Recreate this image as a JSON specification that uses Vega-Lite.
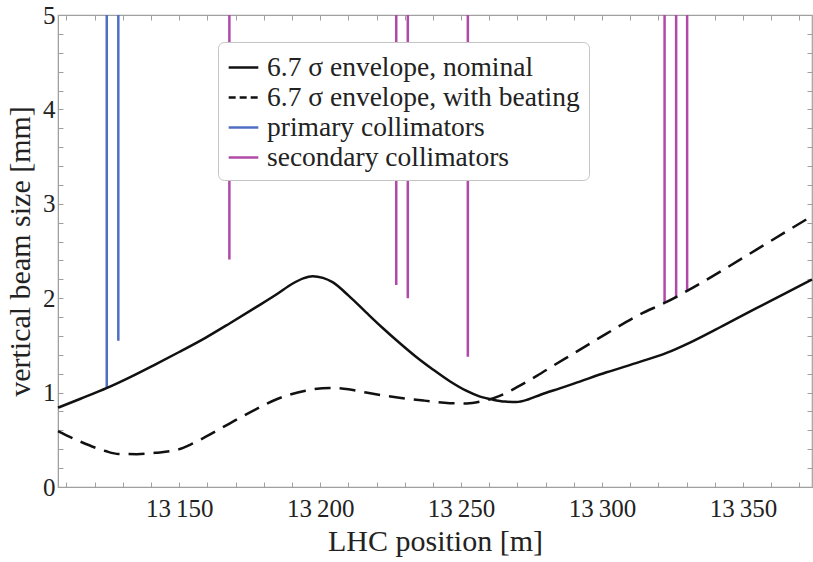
{
  "$schema": "https://vega.github.io/schema/vega-lite/v6.json",
  "width": 754,
  "height": 472,
  "autosize": "none",
  "padding": {"left": 58, "top": 15, "right": 1, "bottom": 75},
  "background": "white",
  "config": {
    "view": {"stroke": "#a0a0a0", "strokeWidth": 1.2},
    "font": "Liberation Serif",
    "axis": {
      "grid": false,
      "domainColor": "#a0a0a0",
      "tickColor": "#a0a0a0",
      "labelFont": "Liberation Serif",
      "titleFont": "Liberation Serif",
      "labelColor": "#222222",
      "titleColor": "#222222",
      "labelFontSize": 25,
      "titleFontSize": 30,
      "titleFontWeight": "normal",
      "tickSize": -5,
      "labelFlush": false,
      "labelOverlap": false
    }
  },
  "resolve": {"axis": {"x": "independent", "y": "independent"}},
  "datasets": {
    "curves": [
      {"s": "nominal", "series": "6.7 σ envelope, nominal", "pos": 13107, "size": 0.84},
      {"s": "nominal", "series": "6.7 σ envelope, nominal", "pos": 13115, "size": 0.935},
      {"s": "nominal", "series": "6.7 σ envelope, nominal", "pos": 13124.4, "size": 1.05},
      {"s": "nominal", "series": "6.7 σ envelope, nominal", "pos": 13133, "size": 1.17},
      {"s": "nominal", "series": "6.7 σ envelope, nominal", "pos": 13141.6, "size": 1.3},
      {"s": "nominal", "series": "6.7 σ envelope, nominal", "pos": 13150, "size": 1.43},
      {"s": "nominal", "series": "6.7 σ envelope, nominal", "pos": 13159.3, "size": 1.58},
      {"s": "nominal", "series": "6.7 σ envelope, nominal", "pos": 13168, "size": 1.735},
      {"s": "nominal", "series": "6.7 σ envelope, nominal", "pos": 13177, "size": 1.9},
      {"s": "nominal", "series": "6.7 σ envelope, nominal", "pos": 13185, "size": 2.05},
      {"s": "nominal", "series": "6.7 σ envelope, nominal", "pos": 13190, "size": 2.15},
      {"s": "nominal", "series": "6.7 σ envelope, nominal", "pos": 13194, "size": 2.21},
      {"s": "nominal", "series": "6.7 σ envelope, nominal", "pos": 13197.3, "size": 2.233},
      {"s": "nominal", "series": "6.7 σ envelope, nominal", "pos": 13201, "size": 2.215},
      {"s": "nominal", "series": "6.7 σ envelope, nominal", "pos": 13204.4, "size": 2.17},
      {"s": "nominal", "series": "6.7 σ envelope, nominal", "pos": 13210, "size": 2.03},
      {"s": "nominal", "series": "6.7 σ envelope, nominal", "pos": 13216.3, "size": 1.85},
      {"s": "nominal", "series": "6.7 σ envelope, nominal", "pos": 13222, "size": 1.69},
      {"s": "nominal", "series": "6.7 σ envelope, nominal", "pos": 13228.1, "size": 1.528},
      {"s": "nominal", "series": "6.7 σ envelope, nominal", "pos": 13234, "size": 1.38},
      {"s": "nominal", "series": "6.7 σ envelope, nominal", "pos": 13240, "size": 1.245},
      {"s": "nominal", "series": "6.7 σ envelope, nominal", "pos": 13246, "size": 1.12},
      {"s": "nominal", "series": "6.7 σ envelope, nominal", "pos": 13251.8, "size": 1.02},
      {"s": "nominal", "series": "6.7 σ envelope, nominal", "pos": 13256.5, "size": 0.96},
      {"s": "nominal", "series": "6.7 σ envelope, nominal", "pos": 13261.3, "size": 0.925},
      {"s": "nominal", "series": "6.7 σ envelope, nominal", "pos": 13265.5, "size": 0.905},
      {"s": "nominal", "series": "6.7 σ envelope, nominal", "pos": 13269.6, "size": 0.9},
      {"s": "nominal", "series": "6.7 σ envelope, nominal", "pos": 13274, "size": 0.93},
      {"s": "nominal", "series": "6.7 σ envelope, nominal", "pos": 13278, "size": 0.975},
      {"s": "nominal", "series": "6.7 σ envelope, nominal", "pos": 13285, "size": 1.045},
      {"s": "nominal", "series": "6.7 σ envelope, nominal", "pos": 13290, "size": 1.095},
      {"s": "nominal", "series": "6.7 σ envelope, nominal", "pos": 13301.6, "size": 1.215},
      {"s": "nominal", "series": "6.7 σ envelope, nominal", "pos": 13313.4, "size": 1.325},
      {"s": "nominal", "series": "6.7 σ envelope, nominal", "pos": 13322.9, "size": 1.42},
      {"s": "nominal", "series": "6.7 σ envelope, nominal", "pos": 13331.2, "size": 1.53},
      {"s": "nominal", "series": "6.7 σ envelope, nominal", "pos": 13343, "size": 1.71},
      {"s": "nominal", "series": "6.7 σ envelope, nominal", "pos": 13354.8, "size": 1.895},
      {"s": "nominal", "series": "6.7 σ envelope, nominal", "pos": 13365, "size": 2.05},
      {"s": "nominal", "series": "6.7 σ envelope, nominal", "pos": 13374.5, "size": 2.198},
      {"s": "beating", "series": "6.7 σ envelope, with beating", "pos": 13107, "size": 0.593},
      {"s": "beating", "series": "6.7 σ envelope, with beating", "pos": 13115, "size": 0.48},
      {"s": "beating", "series": "6.7 σ envelope, with beating", "pos": 13123.8, "size": 0.381},
      {"s": "beating", "series": "6.7 σ envelope, with beating", "pos": 13128.5, "size": 0.35},
      {"s": "beating", "series": "6.7 σ envelope, with beating", "pos": 13135, "size": 0.348},
      {"s": "beating", "series": "6.7 σ envelope, with beating", "pos": 13141.6, "size": 0.362},
      {"s": "beating", "series": "6.7 σ envelope, with beating", "pos": 13149.8, "size": 0.399},
      {"s": "beating", "series": "6.7 σ envelope, with beating", "pos": 13154, "size": 0.45},
      {"s": "beating", "series": "6.7 σ envelope, with beating", "pos": 13159.3, "size": 0.53},
      {"s": "beating", "series": "6.7 σ envelope, with beating", "pos": 13168, "size": 0.675},
      {"s": "beating", "series": "6.7 σ envelope, with beating", "pos": 13177, "size": 0.82},
      {"s": "beating", "series": "6.7 σ envelope, with beating", "pos": 13185, "size": 0.935},
      {"s": "beating", "series": "6.7 σ envelope, with beating", "pos": 13194.8, "size": 1.02},
      {"s": "beating", "series": "6.7 σ envelope, with beating", "pos": 13203.3, "size": 1.05},
      {"s": "beating", "series": "6.7 σ envelope, with beating", "pos": 13210, "size": 1.035},
      {"s": "beating", "series": "6.7 σ envelope, with beating", "pos": 13216.3, "size": 1.0},
      {"s": "beating", "series": "6.7 σ envelope, with beating", "pos": 13228.1, "size": 0.946},
      {"s": "beating", "series": "6.7 σ envelope, with beating", "pos": 13237, "size": 0.915},
      {"s": "beating", "series": "6.7 σ envelope, with beating", "pos": 13245.9, "size": 0.888},
      {"s": "beating", "series": "6.7 σ envelope, with beating", "pos": 13252, "size": 0.885},
      {"s": "beating", "series": "6.7 σ envelope, with beating", "pos": 13257, "size": 0.905},
      {"s": "beating", "series": "6.7 σ envelope, with beating", "pos": 13263.7, "size": 0.965},
      {"s": "beating", "series": "6.7 σ envelope, with beating", "pos": 13270, "size": 1.06},
      {"s": "beating", "series": "6.7 σ envelope, with beating", "pos": 13277, "size": 1.18},
      {"s": "beating", "series": "6.7 σ envelope, with beating", "pos": 13283, "size": 1.29},
      {"s": "beating", "series": "6.7 σ envelope, with beating", "pos": 13289.7, "size": 1.41},
      {"s": "beating", "series": "6.7 σ envelope, with beating", "pos": 13301.6, "size": 1.625},
      {"s": "beating", "series": "6.7 σ envelope, with beating", "pos": 13313.4, "size": 1.828},
      {"s": "beating", "series": "6.7 σ envelope, with beating", "pos": 13322.9, "size": 1.96},
      {"s": "beating", "series": "6.7 σ envelope, with beating", "pos": 13330, "size": 2.074},
      {"s": "beating", "series": "6.7 σ envelope, with beating", "pos": 13343, "size": 2.3},
      {"s": "beating", "series": "6.7 σ envelope, with beating", "pos": 13354.8, "size": 2.515},
      {"s": "beating", "series": "6.7 σ envelope, with beating", "pos": 13374.5, "size": 2.87}
    ],
    "collimators": [
      {"series": "primary collimators", "pos": 13124.3, "top": 5, "bottom": 1.05},
      {"series": "primary collimators", "pos": 13128.4, "top": 5, "bottom": 1.55},
      {"series": "secondary collimators", "pos": 13167.8, "top": 5, "bottom": 2.41},
      {"series": "secondary collimators", "pos": 13227, "top": 5, "bottom": 2.14},
      {"series": "secondary collimators", "pos": 13231.1, "top": 5, "bottom": 2.0},
      {"series": "secondary collimators", "pos": 13252.4, "top": 5, "bottom": 1.38},
      {"series": "secondary collimators", "pos": 13322.2, "top": 5, "bottom": 1.96},
      {"series": "secondary collimators", "pos": 13326.3, "top": 5, "bottom": 2.0},
      {"series": "secondary collimators", "pos": 13330.2, "top": 5, "bottom": 2.07}
    ]
  },
  "layer": [
    {
      "data": {"name": "collimators"},
      "mark": {"type": "rule", "strokeWidth": 2.5},
      "encoding": {
        "x": {
          "field": "pos", "type": "quantitative",
          "scale": {"domain": [13107, 13374.5], "nice": false, "zero": false},
          "axis": {
            "orient": "bottom",
            "title": "LHC position [m]",
            "values": [13110, 13120, 13130, 13140, 13150, 13160, 13170, 13180, 13190, 13200, 13210, 13220, 13230, 13240, 13250, 13260, 13270, 13280, 13290, 13300, 13310, 13320, 13330, 13340, 13350, 13360, 13370],
            "labelExpr": "datum.value % 50 == 0 ? substring(toString(datum.value), 0, 2) + '\u2009' + substring(toString(datum.value), 2) : ''",
            "labelOverlap": false,
            "labelPadding": 14,
            "titlePadding": 5
          }
        },
        "y": {
          "field": "top", "type": "quantitative",
          "scale": {"domain": [0, 5], "nice": false},
          "axis": {
            "orient": "left",
            "title": "vertical beam size [mm]",
            "values": [0, 0.2, 0.4, 0.6, 0.8, 1, 1.2, 1.4, 1.6, 1.8, 2, 2.2, 2.4, 2.6, 2.8, 3, 3.2, 3.4, 3.6, 3.8, 4, 4.2, 4.4, 4.6, 4.8, 5],
            "labelExpr": "abs(datum.value - round(datum.value)) < 0.001 ? toString(round(datum.value)) : ''",
            "labelOverlap": false,
            "labelPadding": 8,
            "titlePadding": 7
          }
        },
        "y2": {"field": "bottom"},
        "color": {
          "field": "series", "type": "nominal",
          "scale": {
            "domain": ["6.7 σ envelope, nominal", "6.7 σ envelope, with beating", "primary collimators", "secondary collimators"],
            "range": ["#111111", "#111111", "#4f6fc4", "#b04aa8"]
          },
          "legend": {
            "title": null,
            "orient": "none",
            "legendX": 160,
            "legendY": 27,
            "fillColor": "white",
            "strokeColor": "#c4c4c4",
            "cornerRadius": 6,
            "padding": 9,
            "labelFont": "Liberation Serif",
            "labelFontSize": 27.5,
            "labelColor": "#222222",
            "labelLimit": 500,
            "symbolType": "stroke",
            "symbolSize": 880,
            "symbolStrokeWidth": 2.5,
            "rowPadding": 0,
            "labelOffset": 7
          }
        },
        "strokeDash": {
          "field": "series", "type": "nominal",
          "scale": {
            "domain": ["6.7 σ envelope, nominal", "6.7 σ envelope, with beating", "primary collimators", "secondary collimators"],
            "range": [[1, 0], [7, 4], [1, 0], [1, 0]]
          },
          "legend": {
            "title": null,
            "orient": "none",
            "legendX": 160,
            "legendY": 27
          }
        }
      }
    },
    {
      "data": {"name": "curves"},
      "transform": [{"filter": "datum.s == 'nominal'"}],
      "mark": {"type": "line", "strokeWidth": 2.5, "interpolate": "monotone"},
      "encoding": {
        "x": {
          "field": "pos", "type": "quantitative",
          "axis": {
            "orient": "top", "title": null, "labels": false, "domain": false,
            "values": [13110, 13120, 13130, 13140, 13150, 13160, 13170, 13180, 13190, 13200, 13210, 13220, 13230, 13240, 13250, 13260, 13270, 13280, 13290, 13300, 13310, 13320, 13330, 13340, 13350, 13360, 13370]
          }
        },
        "y": {
          "field": "size", "type": "quantitative",
          "axis": {
            "orient": "right", "title": null, "labels": false, "domain": false,
            "values": [0, 0.2, 0.4, 0.6, 0.8, 1, 1.2, 1.4, 1.6, 1.8, 2, 2.2, 2.4, 2.6, 2.8, 3, 3.2, 3.4, 3.6, 3.8, 4, 4.2, 4.4, 4.6, 4.8, 5]
          }
        },
        "color": {"field": "series", "type": "nominal"}
      }
    },
    {
      "data": {"name": "curves"},
      "transform": [{"filter": "datum.s == 'beating'"}],
      "mark": {"type": "line", "strokeWidth": 2.5, "interpolate": "monotone", "strokeDash": [16, 9]},
      "encoding": {
        "x": {"field": "pos", "type": "quantitative", "axis": null},
        "y": {"field": "size", "type": "quantitative", "axis": null},
        "color": {"field": "series", "type": "nominal"}
      }
    }
  ]
}
